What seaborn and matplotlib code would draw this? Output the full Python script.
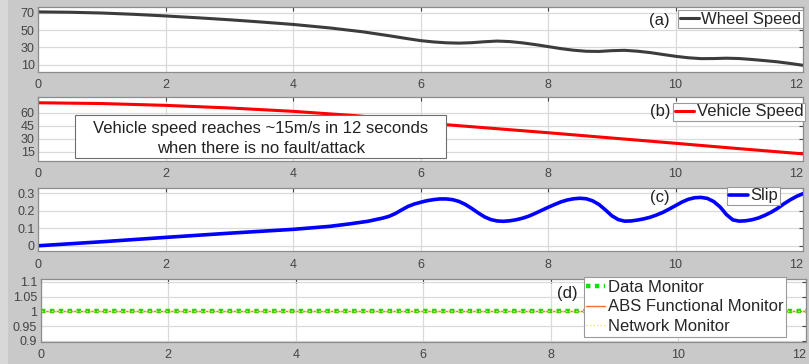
import matplotlib
matplotlib.use("Agg")
import matplotlib.pyplot as plt
from matplotlib.patches import Rectangle
import seaborn as sns
import pandas as pd

# ---------------- data ----------------
wheel_t = [0, 0.5, 1.0, 1.5, 2.0, 2.5, 3.0, 3.5, 4.0, 4.57, 5.09, 5.51, 5.8, 6.0, 6.2, 6.4,
           6.6, 6.8, 7.0, 7.2, 7.4, 7.6, 7.8, 8.0, 8.2, 8.4, 8.6, 8.8, 9.0, 9.2, 9.4, 9.6,
           9.8, 10.0, 10.2, 10.4, 10.6, 10.8, 11.0, 11.2, 11.4, 11.6, 11.8, 12.0]
wheel_speed = [71, 70.6, 69.7, 68.2, 66.3, 64.2, 61.9, 59.3, 56.5, 52.5, 48.0, 43.4, 40.0,
               37.8, 36.3, 35.3, 34.9, 35.4, 36.5, 37.3, 36.7, 35.2, 33.2, 30.9, 28.6, 26.7,
               25.5, 25.3, 26.2, 26.6, 25.6, 24.0, 21.8, 19.7, 18.0, 17.0, 17.1, 17.5, 17.1,
               16.0, 14.7, 13.3, 11.4, 9.3]

vehicle_t = [0, 1, 2, 3, 4, 5, 5.69, 6, 7, 8, 9, 10, 11, 12]
vehicle_speed = [71.5, 70.6, 68.5, 65.5, 61.6, 56.5, 51.6, 48.5, 42.7, 36.9, 30.8, 24.7,
                 18.5, 12.5]

slip_t = [0, 1, 2, 3, 4, 4.57, 4.88, 5.17, 5.4, 5.5, 5.6, 5.7, 5.8, 5.9,
          6.0, 6.1, 6.2, 6.3, 6.4, 6.5, 6.6, 6.7, 6.8, 6.9, 7.0, 7.1, 7.2, 7.3, 7.4, 7.5,
          7.6, 7.7, 7.8, 7.9, 8.0, 8.1, 8.2, 8.3, 8.4, 8.5, 8.6, 8.7, 8.8, 8.9, 9.0, 9.1,
          9.2, 9.3, 9.4, 9.5, 9.6, 9.7, 9.8, 9.9, 10.0, 10.1, 10.2, 10.3, 10.4, 10.5, 10.6,
          10.7, 10.8, 10.9, 11.0, 11.1, 11.2, 11.3, 11.4, 11.5, 11.6, 11.7, 11.8, 11.9, 12.0]
slip = [0.0, 0.023, 0.048, 0.072, 0.094, 0.111, 0.125, 0.140, 0.158, 0.168, 0.184, 0.205,
        0.225, 0.239,
        0.249, 0.258, 0.264, 0.268, 0.268, 0.264, 0.254, 0.237, 0.214, 0.189, 0.166, 0.150,
        0.142, 0.140, 0.143, 0.149,
        0.158, 0.170, 0.186, 0.203, 0.220, 0.236, 0.251, 0.262, 0.269, 0.272, 0.269, 0.257,
        0.236, 0.205, 0.172, 0.150,
        0.141, 0.142, 0.147, 0.154, 0.163, 0.176, 0.191, 0.210, 0.230, 0.250, 0.266, 0.275,
        0.277, 0.271, 0.253,
        0.222, 0.178, 0.148, 0.141, 0.143, 0.149, 0.159, 0.174, 0.192, 0.214, 0.240, 0.263,
        0.283, 0.298]

monitor_t = [0, 12]
data_monitor = [1, 1]
abs_monitor = [1, 1]
network_monitor = [1, 1]

x_ticks = [0, 2, 4, 6, 8, 10, 12]
a_ticks = [10, 30, 50, 70]
b_ticks = [15, 30, 45, 60]
c_ticks = [0, 0.1, 0.2, 0.3]
c_ticklabels = ["0", "0.1", "0.2", "0.3"]
d_ticks = [0.9, 0.95, 1.0, 1.05, 1.1]
d_ticklabels = ["0.9", "0.95", "1", "1.05", "1.1"]

# ---------------- style ----------------
sns.set_style("white")
plt.rcParams["font.family"] = ["Liberation Sans", "DejaVu Sans"]

W, H = 809, 364
fig = plt.figure(figsize=(W / 100, H / 100), dpi=100, facecolor="#c9c9c9")
fig.patches.append(Rectangle((0, 0), 8 / W, 1, transform=fig.transFigure,
                             facecolor="#d8d8d8", edgecolor="none", zorder=-5))


def make_ax(left, top, right, bottom):
    return fig.add_axes([left / W, 1 - bottom / H, (right - left) / W, (bottom - top) / H])


ax_a = make_ax(38.3, 6.7, 803, 71.7)
ax_b = make_ax(38.3, 96.7, 803, 160.7)
ax_c = make_ax(38.3, 188.3, 803, 251)
ax_d = make_ax(40.7, 279.3, 805.7, 341.7)

df_a = pd.DataFrame({"t": wheel_t, "v": wheel_speed})
df_b = pd.DataFrame({"t": vehicle_t, "v": vehicle_speed})
df_c = pd.DataFrame({"t": slip_t, "v": slip})
df_d = pd.DataFrame({"t": monitor_t, "data": data_monitor, "abs": abs_monitor,
                     "net": network_monitor})

sns.lineplot(data=df_a, x="t", y="v", ax=ax_a, color="#3c3c3c", lw=2.2,
             label="Wheel Speed", estimator=None)
sns.lineplot(data=df_b, x="t", y="v", ax=ax_b, color="#ff0000", lw=2.2,
             label="Vehicle Speed", estimator=None)
sns.lineplot(data=df_c, x="t", y="v", ax=ax_c, color="#0000ff", lw=2.6,
             label="Slip", estimator=None)
sns.lineplot(data=df_d, x="t", y="data", ax=ax_d, color="#00e600", lw=3.2,
             linestyle=(0, (1, 1)), label="Data Monitor", estimator=None)
sns.lineplot(data=df_d, x="t", y="abs", ax=ax_d, color="#ff6a3a", lw=1.0,
             label="ABS Functional Monitor", estimator=None)
sns.lineplot(data=df_d, x="t", y="net", ax=ax_d, color="#ffff00", lw=1.0,
             linestyle=(0, (1, 1.5)), label="Network Monitor", estimator=None)

for ax, yl, yt, ytl in [(ax_a, (1.9, 77.0), a_ticks, None),
                        (ax_b, (4.6, 78.5), b_ticks, None),
                        (ax_c, (-0.03, 0.329), c_ticks, c_ticklabels),
                        (ax_d, (0.8966, 1.109), d_ticks, d_ticklabels)]:
    ax.set_facecolor("white")
    ax.set_xlim(0, 12)
    ax.set_ylim(*yl)
    ax.set_xticks(x_ticks)
    ax.set_yticks(yt)
    if ytl is not None:
        ax.set_yticklabels(ytl)
    ax.set_xlabel("")
    ax.set_ylabel("")
    ax.grid(True, color="#dadada", lw=0.9)
    ax.set_axisbelow(True)
    ax.tick_params(direction="in", length=3, width=0.8, top=True, right=True,
                   colors="#444444", labelsize=9)
    ax.tick_params(axis="x", pad=5.5)
    ax.tick_params(axis="y", pad=2.5)
    # keep the last x label ("12") inside the picture
    ax.get_xticklabels()[-1].set_horizontalalignment("right")
    for s in ax.spines.values():
        s.set_color("#8c8c8c")
        s.set_linewidth(0.9)

leg_kw = dict(loc="upper right", borderaxespad=0, fontsize=12, handlelength=1.15,
              handletextpad=0.15, borderpad=0.1, fancybox=False, framealpha=1,
              edgecolor="#9a9a9a", labelspacing=0.05)
la = ax_a.legend(bbox_to_anchor=(1.0, 1 - 3.3 / 65), **leg_kw)
lb = ax_b.legend(bbox_to_anchor=(1.0026, 1 - 6 / 64), **leg_kw)
lc = ax_c.legend(bbox_to_anchor=(0.970, 1 + 1.6 / 62.7), **leg_kw)
leg_kw_d = dict(leg_kw, labelspacing=0.28, borderpad=0.15)
ld = ax_d.legend(bbox_to_anchor=(0.974, 1 + 2 / 62.4), **leg_kw_d)
for lg in (la, lb, lc, ld):
    lg.get_frame().set_linewidth(0.8)

ax_a.text(0.812, 0.78, "(a)", transform=ax_a.transAxes, fontsize=12, ha="center", va="center",
          color="#222222")
ax_b.text(0.813, 0.761, "(b)", transform=ax_b.transAxes, fontsize=12, ha="center",
          va="center", color="#222222")
ax_c.text(0.813, 0.853, "(c)", transform=ax_c.transAxes, fontsize=12, ha="center",
          va="center", color="#222222")
ax_d.text(0.689, 0.776, "(d)", transform=ax_d.transAxes, fontsize=12, ha="center",
          va="center", color="#222222")

# annotation box in panel (b)
ax_b.add_patch(Rectangle((0.0484, 0.042), 0.533 - 0.0484, 0.709 - 0.042,
                         transform=ax_b.transAxes, facecolor="white", edgecolor="#6e6e6e",
                         lw=0.8, zorder=3))
ax_b.text(0.291, (160.7 - 128.3) / 64, "Vehicle speed reaches ~15m/s in 12 seconds",
          transform=ax_b.transAxes, fontsize=12, ha="center", va="center", color="#222222",
          zorder=4)
ax_b.text(0.291, (160.7 - 148.3) / 64, "when there is no fault/attack",
          transform=ax_b.transAxes, fontsize=12, ha="center", va="center", color="#222222",
          zorder=4)

fig.savefig("out.png", dpi=100, facecolor=fig.get_facecolor())
